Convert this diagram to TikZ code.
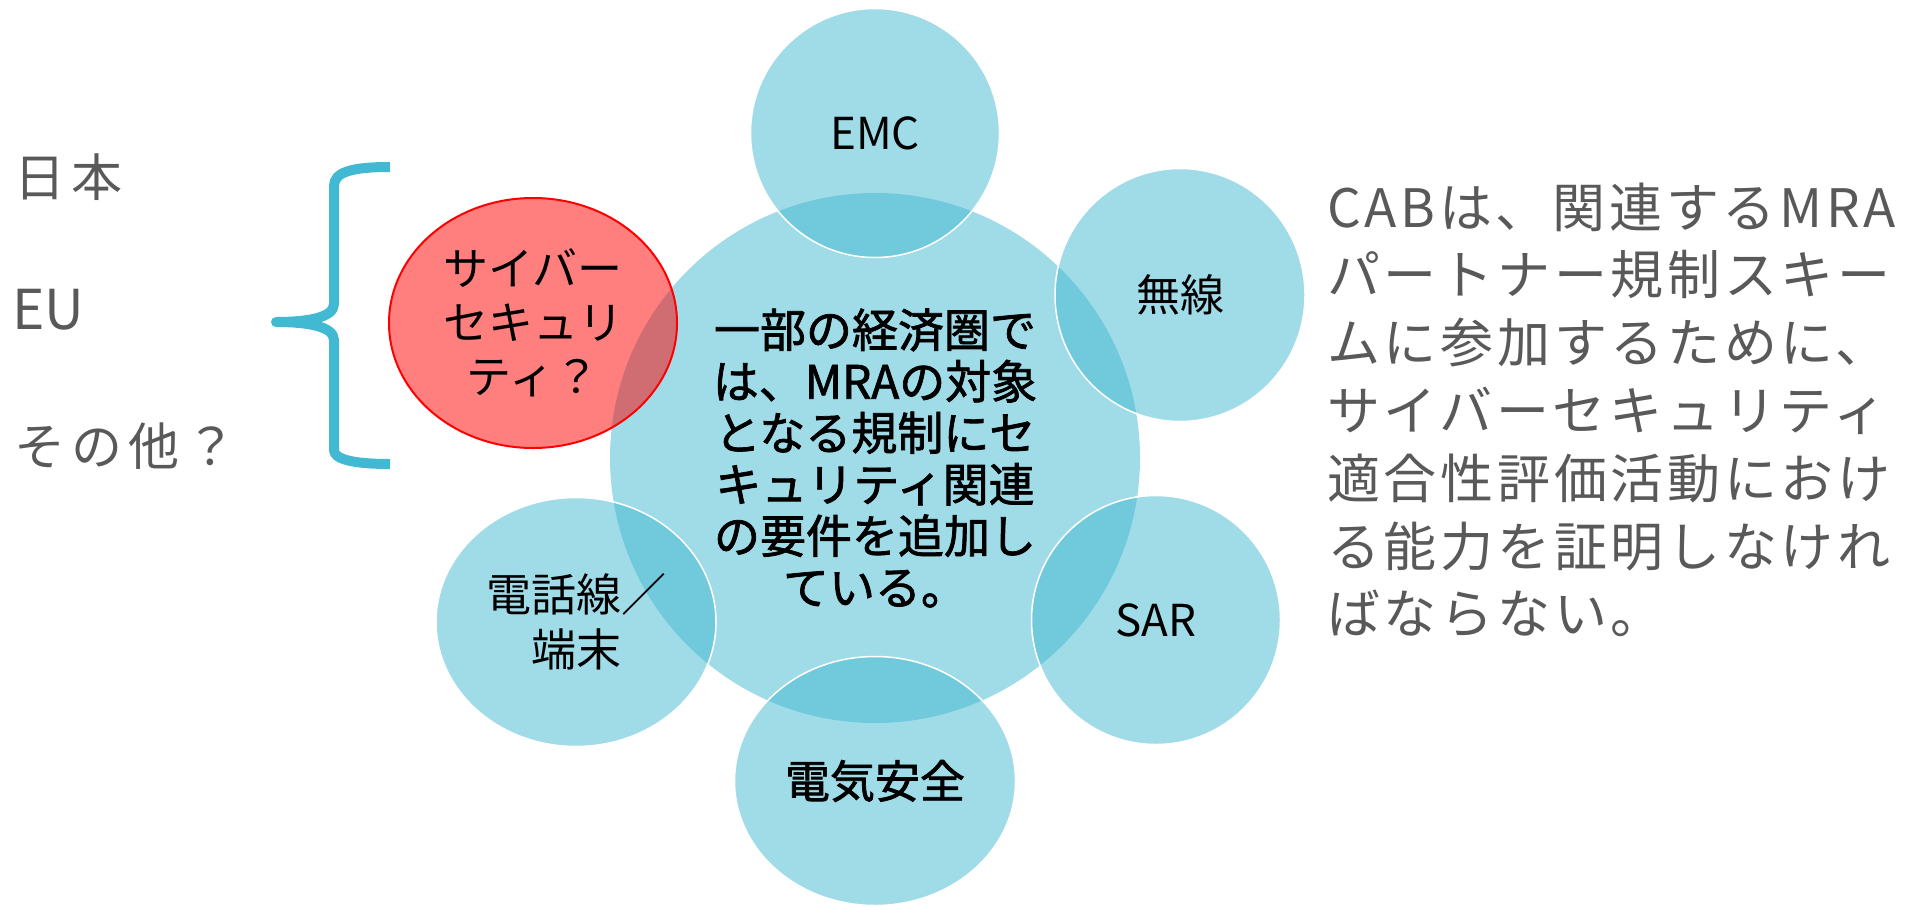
\documentclass[tikz,border=0pt]{standalone}
\usepackage{fontspec}
\setmainfont{Noto Sans CJK JP}
\newfontfamily\spacedfont{Noto Sans CJK JP}[LetterSpace=7]
\newfontfamily\leftfont{Noto Sans CJK JP}[LetterSpace=12]
\newfontfamily\midfont{Noto Sans CJK JP}[FakeBold=1.6]
\usetikzlibrary{shapes.geometric}
\definecolor{cblue}{RGB}{66,183,209}
\definecolor{bracketblue}{RGB}{65,185,210}
\definecolor{graytext}{RGB}{89,89,89}
\begin{document}
\begin{tikzpicture}[x=1pt,y=-1pt,
  blob/.style={ellipse, fill=cblue, fill opacity=0.5, text opacity=1, draw=white, line width=1.5pt,
    inner sep=0pt, align=center, text=black},
  sat/.style={blob, font=\fontsize{44pt}{54pt}\selectfont},
  redblob/.style={ellipse, fill=red, fill opacity=0.5, text opacity=1, draw=red, line width=2pt,
    inner sep=0pt, align=center, text=black, font=\fontsize{45pt}{54pt}\selectfont},
  graylbl/.style={inner sep=0pt, text=graytext, anchor=west},
  brace/.style={draw=bracketblue, line width=10pt, line join=round}]
\useasboundingbox (0,0) rectangle (1921,905);

% central circle
\node[blob, draw=none, minimum width=530pt, minimum height=530pt,
  font=\midfont\fontsize{46pt}{51.5pt}\selectfont] (core) at (875,458)
  {一部の経済圏で\\は、MRAの対象\\となる規制にセ\\キュリティ関連\\の要件を追加し\\ている。};

% satellites
\node[sat, minimum width=249pt, minimum height=249pt] (emc) at (875,133) {EMC};
\node[sat, minimum width=250pt, minimum height=253pt] (wireless) at (1180,295) {無線};
\node[sat, minimum width=249pt, minimum height=249pt] (sar) at (1156,620) {SAR};
\node[sat, minimum width=280pt, minimum height=249pt, font=\fontsize{45pt}{55pt}\selectfont] (telecom) at (576,622) {電話線／\\端末};
\node[sat, minimum width=281pt, minimum height=249pt, font=\midfont\fontsize{45pt}{54pt}\selectfont] (safety) at (875,781) {電気安全};

% cyber security
\node[redblob, minimum width=288pt, minimum height=250pt] (cyber) at (533,323) {サイバー\\セキュリ\\ティ？};

% brace
\draw[brace] (390,167) .. controls (352,167) and (334,172) .. (334,186) -- (334,304)
  .. controls (334,318) and (306,322) .. (276,322)
  .. controls (306,322) and (334,326) .. (334,340) -- (334,450)
  .. controls (334,459) and (352,464) .. (390,464);

% left labels
\node[graylbl, font=\leftfont\fontsize{51pt}{60pt}\selectfont] (jp) at (14,177) {日本};
\node[graylbl, font=\fontsize{55pt}{60pt}\selectfont] (eu) at (12,310) {EU};
\node[graylbl, font=\leftfont\fontsize{51pt}{60pt}\selectfont] (other) at (14,446) {その他？};

% right paragraph
\node[graylbl, align=left, font=\spacedfont\fontsize{53pt}{67.8pt}\selectfont] (cab) at (1327,410)
  {CABは、関連するMRA\\パートナー規制スキー\\ムに参加するために、\\サイバーセキュリティ\\適合性評価活動におけ\\る能力を証明しなけれ\\ばならない。};
\end{tikzpicture}
\end{document}
